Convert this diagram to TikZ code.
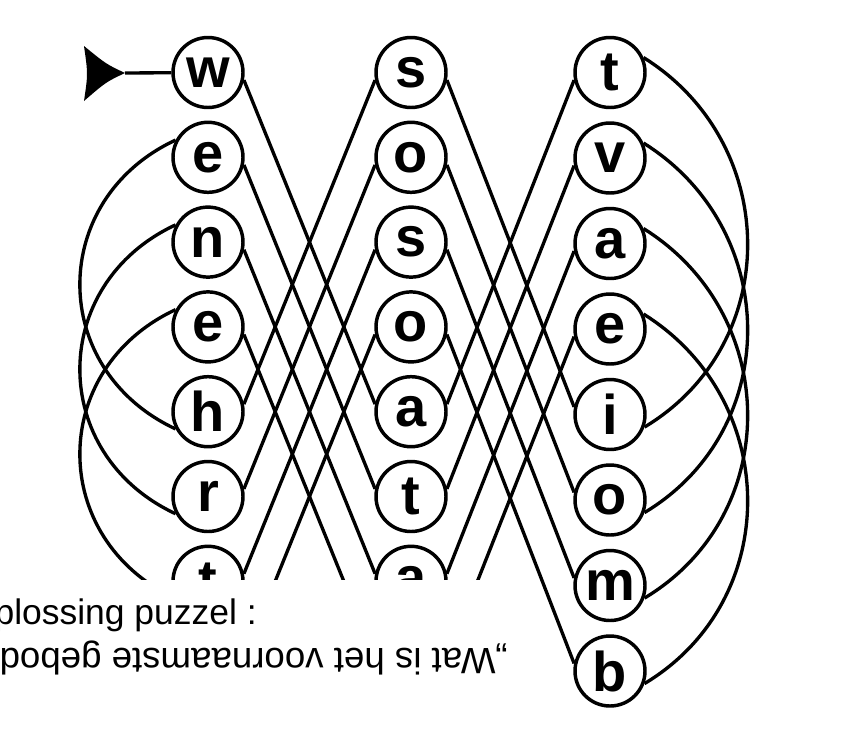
\documentclass[tikz,border=0pt]{standalone}
\usepackage{fontspec}
\setmainfont{Liberation Sans}
\begin{document}
\begin{tikzpicture}[x=0.75pt,y=0.75pt,
  letter/.style={circle, draw, line width=2.6pt, minimum size=52.5pt, inner sep=0pt,
    font=\fontsize{42}{42}\selectfont\bfseries},
  link/.style={line width=2.5pt},
  caption/.style={font=\fontsize{27.5}{30}\selectfont, inner sep=0pt}
]
\useasboundingbox (0,0) rectangle (842,-740);
\fill[white] (0,0) rectangle (842,-740);

% left column
\node[letter] (L1) at (208,-72.5) {w};
\node[letter] (L2) at (208,-157.3) {e};
\node[letter] (L3) at (208,-242.1) {n};
\node[letter] (L4) at (208,-326.9) {e};
\node[letter] (L5) at (208,-411.7) {h};
\node[letter] (L6) at (208,-496.5) {r};
\node[letter] (L7) at (208,-581.3) {t};
\coordinate (L8e) at (243.9,-658.5);
% middle column
\node[letter] (M1) at (411,-72.5) {s};
\node[letter] (M2) at (411,-157.3) {o};
\node[letter] (M3) at (411,-242.1) {s};
\node[letter] (M4) at (411,-326.9) {o};
\node[letter] (M5) at (411,-411.7) {a};
\node[letter] (M6) at (411,-496.5) {t};
\node[letter] (M7) at (411,-581.3) {a};
\coordinate (M8w) at (375.1,-658.5);
\coordinate (M8e) at (446.9,-658.5);
% right column
\node[letter] (R1) at (610,-72.5) {t};
\node[letter] (R2) at (610,-158) {v};
\node[letter] (R3) at (610,-243.5) {a};
\node[letter] (R4) at (610,-329) {e};
\node[letter] (R5) at (610,-414.5) {i};
\node[letter] (R6) at (610,-500) {o};
\node[letter] (R7) at (610,-585.5) {m};
\node[letter] (R8) at (610,-671) {b};

% start arrow
\coordinate (tip) at (125,-73);
\fill (84,-46) .. controls (106,-64) .. (tip) .. controls (106,-82) .. (84,-101)
  .. controls (88,-74) .. (84,-46) -- cycle;
\draw[link] (tip) -- (L1);

% left <-> middle
\draw[link] (L1.-12) -- (M5.168);
\draw[link] (L2.-12) -- (M6.168);
\draw[link] (L3.-12) -- (M7.168);
\draw[link] (L4.-12) -- (M8w);
\draw[link] (M1.192) -- (L5.12);
\draw[link] (M2.192) -- (L6.12);
\draw[link] (M3.192) -- (L7.12);
\draw[link] (M4.192) -- (L8e);
% middle <-> right
\draw[link] (M1.-12) -- (R5.168);
\draw[link] (M2.-12) -- (R6.168);
\draw[link] (M3.-12) -- (R7.168);
\draw[link] (M4.-12) -- (R8.168);
\draw[link] (R1.192) -- (M5.12);
\draw[link] (R2.192) -- (M6.12);
\draw[link] (R3.192) -- (M7.12);
\draw[link] (R4.192) -- (M8e);

% left arcs
\draw[link] (L2.152) to[out=205,in=155,looseness=1.25] (L5.208);
\draw[link] (L3.152) to[out=205,in=155,looseness=1.25] (L6.208);
\draw[link] (L4.152) to[out=205,in=155,looseness=1.25] (L7.208);
% right arcs
\draw[link] (R1.24) to[out=-32,in=31,looseness=1.12] (R5.-20);
\draw[link] (R2.24) to[out=-32,in=31,looseness=1.12] (R6.-20);
\draw[link] (R3.24) to[out=-32,in=31,looseness=1.12] (R7.-20);
\draw[link] (R4.24) to[out=-32,in=31,looseness=1.12] (R8.-20);

% caption patch
\fill[white] (0,-580) rectangle (525,-740);
\begin{scope}
\clip (0,0) rectangle (842,-740);
\node[caption, font=\fontsize{26.6}{30}\selectfont, anchor=base east] (cap1) at (257,-624) {Oplossing puzzel :};
\node[caption, rotate=180, anchor=base west] (cap2) at (508,-648) {„Wat is het voornaamste gebod};
\end{scope}
\end{tikzpicture}
\end{document}
